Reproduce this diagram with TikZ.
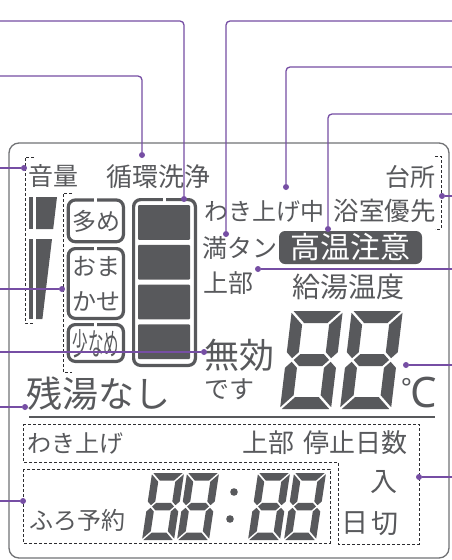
\documentclass[tikz,border=0pt]{standalone}
\usepackage{graphicx}
\usepackage{fontspec}
\setmainfont{Noto Sans CJK JP}
\newfontfamily\latinfont{Noto Sans}
\usetikzlibrary{positioning}
\definecolor{lcdgray}{RGB}{88,89,92}
\definecolor{leadpurple}{RGB}{118,78,164}
\definecolor{dashgray}{RGB}{45,45,48}
\newcommand{\fsz}[1]{\fontsize{#1}{#1}\selectfont}
\tikzset{
  lbl/.style={text=lcdgray, inner sep=0pt},
  lead/.style={draw=leadpurple, line width=1.3pt, rounded corners=4pt},
  dot/.style={circle, fill=leadpurple, inner sep=0pt, minimum size=6pt},
  lcdbox/.style={draw=lcdgray, line width=3.2pt, rounded corners=7pt},
  dashbox/.style={draw=dashgray, line width=0.9pt, dash pattern=on 3pt off 2pt},
}
% seven segment digit: x, y (bottom left), width, height, thickness, gap, slant
\newcommand{\lcddigit}[7]{%
  \begin{scope}[shift={(#1,#2)}, xslant=#7]
    \pgfmathsetmacro\segW{#3}
    \pgfmathsetmacro\segH{#4}
    \pgfmathsetmacro\segT{#5}
    \pgfmathsetmacro\segG{#6}
    \pgfmathsetmacro\segM{-#4/2}
    \pgfmathsetmacro\segS{#5/2}
    \fill[lcdgray] (\segG,-\segH) -- (\segW-\segG,-\segH) -- (\segW-\segT-\segG,-\segH+\segT) -- (\segT+\segG,-\segH+\segT) -- cycle;
    \fill[lcdgray] (\segG,0) -- (\segW-\segG,0) -- (\segW-\segT-\segG,-\segT) -- (\segT+\segG,-\segT) -- cycle;
    \fill[lcdgray] (\segS+\segG,\segM) -- (\segT+\segG,\segM-\segS) -- (\segW-\segT-\segG,\segM-\segS) -- (\segW-\segS-\segG,\segM) -- (\segW-\segT-\segG,\segM+\segS) -- (\segT+\segG,\segM+\segS) -- cycle;
    \fill[lcdgray] (0,-\segH+\segG) -- (\segT,-\segH+\segT+\segG) -- (\segT,\segM-\segS-\segG) -- (\segS,\segM-\segG) -- (0,\segM-\segS-\segG) -- cycle;
    \fill[lcdgray] (0,-\segG) -- (\segT,-\segT-\segG) -- (\segT,\segM+\segS+\segG) -- (\segS,\segM+\segG) -- (0,\segM+\segS+\segG) -- cycle;
    \fill[lcdgray] (\segW,-\segH+\segG) -- (\segW-\segT,-\segH+\segT+\segG) -- (\segW-\segT,\segM-\segS-\segG) -- (\segW-\segS,\segM-\segG) -- (\segW,\segM-\segS-\segG) -- cycle;
    \fill[lcdgray] (\segW,-\segG) -- (\segW-\segT,-\segT-\segG) -- (\segW-\segT,\segM+\segS+\segG) -- (\segW-\segS,\segM+\segG) -- (\segW,\segM+\segS+\segG) -- cycle;
  \end{scope}}

\begin{document}
\begin{tikzpicture}[x=1pt, y=-1pt]
  \fill[white] (0,0) rectangle (452,560);
  \useasboundingbox (0,0) rectangle (452,560);
  % panel outline
  \draw[lcdgray!85, line width=1.3pt, rounded corners=10pt] (9,143) rectangle (449,558);

  % upper labels
  \node[lbl, anchor=west] (vol) at (28,176.5) {\fsz{25}音量};
  \node[lbl, anchor=west] (junkan) at (106,176.5) {\fsz{26}循環洗浄};
  \node[lbl, anchor=east] (daidokoro) at (436,176.5) {\fsz{25}台所};
  \node[lbl, anchor=east] (yokushitsu) at (436,211) {\fsz{25.5}浴室優先};
  \node[lbl, anchor=west] (wakiagechu) at (204,211) {\fsz{24}わき上げ中};
  \node[lbl, anchor=west] (mantan) at (202,248) {\fsz{25}満タン};
  \node[lbl, anchor=west] (jobu) at (203,283) {\fsz{25}上部};
  \node[lbl, anchor=west] (kyuto) at (292,286.5) {\fsz{28}給湯温度};
  \node[fill=lcdgray, text=white, rounded corners=6pt, minimum width=143pt,
        minimum height=33pt, inner sep=0pt] (koon) at (350.5,247.5) {\fsz{30}高温注意};

  % volume bars
  \fill[lcdgray] (29,197) rectangle (33,229);
  \fill[lcdgray] (29,239) rectangle (33,319);
  \fill[lcdgray] (36,197) -- (57,197) -- (53.2,229) -- (36,229) -- cycle;
  \fill[lcdgray] (36,239) -- (52,239) -- (42.4,319) -- (36,319) -- cycle;

  % dashed brackets
  \draw[dashbox] (34,157) -| (25,323) -- (34,323);
  \draw[dashbox] (72,193) -| (63,372) -- (72,372);
  \draw[dashbox] (435,156) -| (441,229) -- (435,229);

  % amount boxes
  \draw[lcdbox] (68.3,200) rectangle (123.4,241.7);
  \node[lbl] (oome) at (96,221) {\fsz{24}多め};
  \draw[lcdbox] (68.3,248.6) rectangle (123.4,318.4);
  \node[lbl, align=center, font=\fontsize{24}{35}\selectfont] (omakase) at (96,283.5) {おま\\かせ};
  \draw[lcdbox] (68.3,324.6) rectangle (123.4,361.4);
  \node[lbl] (sukuname) at (96,343.5) {\fsz{31}\scalebox{0.5}[1]{少なめ}};

  % bath level column
  \draw[lcdbox] (133.6,199.6) rectangle (195.4,365.4);
  \foreach \i in {0,...,3}
    \fill[lcdgray, rounded corners=1pt] (138,205+\i*39.75) rectangle (190,239.75+\i*39.75);
  \foreach \gx/\gy in {95.5/200, 95.5/248.6, 95.5/324.6, 164.5/199.6}
    \fill[white] (\gx-1.2,\gy-2.5) rectangle (\gx+1.2,\gy+2.5);

  % middle labels
  \node[lbl, anchor=west] (mukou) at (204,355) {\fsz{35}無効};
  \node[lbl, anchor=west] (desu) at (204,389) {\fsz{25}です};
  \node[lbl, anchor=west] (zanyu) at (26,394) {\fsz{36}残湯なし};
  \node[lbl, anchor=base west] (celsius) at (401,407.5)
    {\latinfont\fsz{42}\raisebox{11pt}{\fsz{25}°}\kern-1pt C};

  % temperature digits
  \lcddigit{280}{409}{51}{98}{12}{1.8}{0.12}
  \lcddigit{340}{409}{51}{98}{12}{1.8}{0.12}

  % separator
  \draw[lcdgray, line width=2.6pt] (29,417) -- (435,417);

  % lower dashed boxes
  \draw[dashbox] (23,424) -- (419,424) -- (419,544) -- (338,544) -- (338,462) -- (23,462) -- cycle;
  \draw[dashbox] (23,469) rectangle (330,543);

  % lower labels
  \node[lbl, anchor=west] (wakiage) at (27,443) {\fsz{24}わき上げ};
  \node[lbl, anchor=west] (jobu2) at (242,443) {\fsz{26}上部};
  \node[lbl, anchor=east] (teishi) at (408,443) {\fsz{26}停止日数};
  \node[lbl, anchor=west] (furo) at (29,520) {\fsz{24}ふろ予約};
  \node[lbl] (iri) at (383.5,482) {\fsz{27}入};
  \node[lbl] (hi) at (354.5,523.5) {\fsz{27}日};
  \node[lbl] (kiri) at (384.5,523.5) {\fsz{27}切};

  % timer digits
  \lcddigit{142}{540}{32}{67}{7.5}{1.3}{0.15}
  \lcddigit{177}{540}{32}{67}{7.5}{1.3}{0.15}
  \lcddigit{248}{540}{32}{67}{7.5}{1.3}{0.15}
  \lcddigit{284}{540}{32}{67}{7.5}{1.3}{0.15}
  \fill[lcdgray] (234,492) circle (3.8pt);
  \fill[lcdgray] (230,519) circle (3.8pt);

  % leaders, left
  \coordinate (eL1) at (0,21);  \node[dot] (pBar) at (184,199) {};
  \coordinate (eL2) at (0,76);  \node[dot] (pJunkan) at (142,155) {};
  \coordinate (eL3) at (0,168); \node[dot] (pVol) at (24,168) {};
  \coordinate (eL4) at (0,289); \node[dot] (pAmount) at (62,289) {};
  \coordinate (eL5) at (0,352); \node[dot] (pMukou) at (204,352) {};
  \coordinate (eL6) at (0,407); \node[dot] (pZanyu) at (25,407) {};
  \coordinate (eL7) at (0,501); \node[dot] (pFuro) at (23,501) {};
  \draw[lead] (eL1) -| (pBar);
  \draw[lead] (eL2) -| (pJunkan);
  \draw[lead] (eL3) -- (pVol);
  \draw[lead] (eL4) -- (pAmount);
  \draw[lead] (eL5) -- (pMukou);
  \draw[lead] (eL6) -- (pZanyu);
  \draw[lead] (eL7) -- (pFuro);
  % leaders, right
  \coordinate (eR1) at (452,21);  \node[dot] (pMantan) at (226,234) {};
  \coordinate (eR2) at (452,67);  \node[dot] (pWaki) at (286,187) {};
  \coordinate (eR3) at (452,114); \node[dot] (pKoon) at (328,229) {};
  \coordinate (eR4) at (452,196); \node[dot] (pPrio) at (442,196) {};
  \coordinate (eR5) at (452,269); \node[dot] (pJobu) at (258,269) {};
  \coordinate (eR6) at (452,365); \node[dot] (pTemp) at (406,365) {};
  \coordinate (eR7) at (452,477); \node[dot] (pDays) at (419,477) {};
  \draw[lead] (eR1) -| (pMantan);
  \draw[lead] (eR2) -| (pWaki);
  \draw[lead] (eR3) -| (pKoon);
  \draw[lead] (eR4) -- (pPrio);
  \draw[lead] (eR5) -- (pJobu);
  \draw[lead] (eR6) -- (pTemp);
  \draw[lead] (eR7) -- (pDays);
\end{tikzpicture}
\end{document}
